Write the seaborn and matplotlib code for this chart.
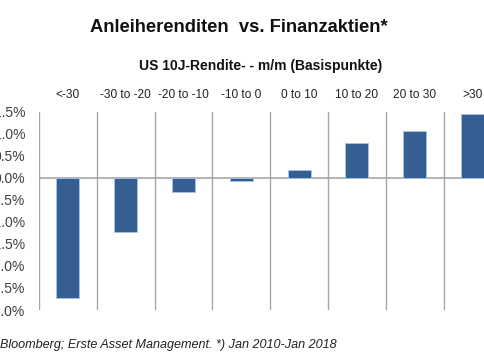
import matplotlib
matplotlib.use("Agg")
import matplotlib.pyplot as plt
import seaborn as sns
import pandas as pd
from matplotlib.ticker import FuncFormatter

categories = ["<-30", "-30 to -20", "-20 to -10", "-10 to 0", "0 to 10", "10 to 20", "20 to 30", ">30"]
values = [-2.72, -1.24, -0.32, -0.07, 0.18, 0.78, 1.07, 1.44]
yticks = [1.5, 1.0, 0.5, 0.0, -0.5, -1.0, -1.5, -2.0, -2.5, -3.0]

title = "Anleiherenditen  vs. Finanzaktien*"
subtitle = "US 10J-Rendite- - m/m (Basispunkte)"
footer = "Bloomberg; Erste Asset Management. *) Jan 2010-Jan 2018"

sns.set_theme(style="white")
plt.rcParams['font.family'] = ['Liberation Sans', 'DejaVu Sans']

df = pd.DataFrame({"cat": categories, "val": values})

fig = plt.figure(figsize=(4.85, 3.6), dpi=100)
ax = fig.add_axes([39/485, 50/360, 462.4/485, 198.3/360])

sns.barplot(data=df, x="cat", y="val", order=categories, color="#355E93",
            width=0.4, saturation=1, edgecolor="#A9C4E6", linewidth=0.6, ax=ax, zorder=3)

ax.set_ylim(-3.0, 1.5)
ax.set_xlim(-0.5, len(categories) - 0.5)
ax.set_yticks(yticks)
ax.yaxis.set_major_formatter(FuncFormatter(lambda v, p: f"{v:.1f}%"))
ax.tick_params(axis="y", length=0, pad=10, labelsize=10, labelcolor="#404040")

# category labels at top
ax.xaxis.tick_top()
ax.tick_params(axis="x", length=0, pad=8, labelsize=8.6, labelcolor="#222222")
ax.set_xlabel("")
ax.set_ylabel("")

for s in ax.spines.values():
    s.set_visible(False)

# separators between categories
for i in range(len(categories) + 1):
    ax.axvline(i - 0.5, color="#A6A6A6", lw=1.0, zorder=1)
ax.axhline(0, color="#A6A6A6", lw=1.2, zorder=2)

fig.text(0.493, 1 - 27/360, title, ha="center", va="center", fontsize=13.2, fontweight="bold", color="#111111")
fig.text(261/485, 1 - 66/360, subtitle, ha="center", va="center", fontsize=10, fontweight="bold", color="#111111")
fig.text(0.0, 1 - 345/360, footer, ha="left", va="center", fontsize=9.1, style="italic", color="#222222")

fig.savefig("out.png", dpi=100)
